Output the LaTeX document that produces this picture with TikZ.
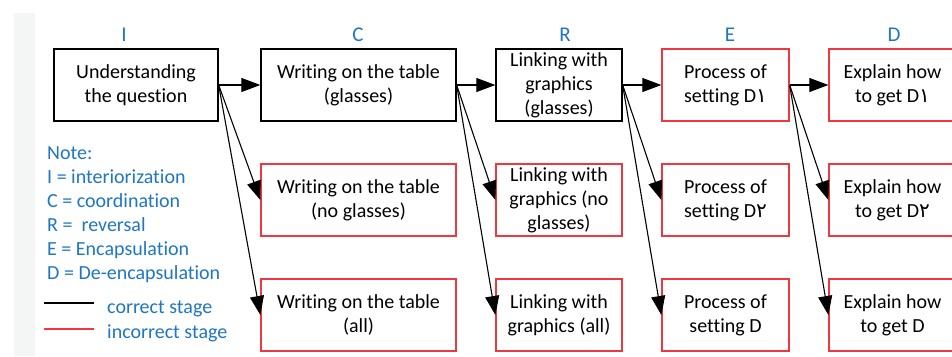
\documentclass[tikz,border=0pt]{standalone}
\usepackage{fontspec}
\setmainfont[Ligatures=NoCommon]{Carlito}
\newfontfamily\arabicfont[Script=Arabic]{DejaVu Sans}
\usetikzlibrary{arrows.meta}
\definecolor{noteblue}{RGB}{31,119,196}
\definecolor{badred}{RGB}{236,56,62}
\definecolor{stripgray}{RGB}{244,245,245}
\newcommand{\ardigit}[1]{{\arabicfont #1}}
\tikzset{
  stage/.style={draw, line width=1.3pt, minimum height=72pt, inner sep=0pt,
    align=center, font=\fontsize{20}{24}\selectfont},
  good/.style={stage, draw=black},
  bad/.style={stage, draw=badred},
  flow/.style={line width=1.1pt, -{Triangle[length=19pt,width=14pt]}},
  tag/.style={text=noteblue, font=\fontsize{21}{24}\selectfont, anchor=base, inner sep=0pt},
  note/.style={text=noteblue, font=\fontsize{20}{24}\selectfont, anchor=base west, inner sep=0pt},
}
\begin{document}
\begin{tikzpicture}[x=1pt,y=-1pt]
  \path[use as bounding box, clip] (0,0) rectangle (952,356);
  \fill[white] (0,0) rectangle (952,356);
  \fill[stripgray] (14,13) rectangle (35,356);

  % stage headings
  \node[tag] (hI) at (124,41) {I};
  \node[tag] (hC) at (358,41) {C};
  \node[tag] (hR) at (565,41) {R};
  \node[tag] (hE) at (730,41) {E};
  \node[tag] (hD) at (894,41) {D};

  % column I
  \node[good, minimum width=164pt] (I1) at (136,85) {Understanding\\the question};

  % column C
  \node[good, minimum width=195pt] (C1) at (358.5,85) {Writing on the table\\(glasses)};
  \node[bad, minimum width=195pt] (C2) at (358.5,200) {Writing on the table\\(no glasses)};
  \node[bad, minimum width=195pt] (C3) at (358.5,315) {Writing on the table\\(all)};

  % column R
  \node[good, minimum width=126pt] (R1) at (559,85) {Linking with\\graphics\\(glasses)};
  \node[bad, minimum width=126pt] (R2) at (559,200) {Linking with\\graphics (no\\glasses)};
  \node[bad, minimum width=126pt] (R3) at (559,315) {Linking with\\graphics (all)};

  % column E
  \node[bad, minimum width=127pt] (E1) at (725.5,85) {Process of\\setting D\ardigit{١}};
  \node[bad, minimum width=127pt] (E2) at (725.5,200) {Process of\\setting D\ardigit{٢}};
  \node[bad, minimum width=127pt] (E3) at (725.5,315) {Process of\\setting D};

  % column D
  \node[bad, minimum width=127pt] (D1) at (892.5,85) {Explain how\\to get D\ardigit{١}};
  \node[bad, minimum width=127pt] (D2) at (892.5,200) {Explain how\\to get D\ardigit{٢}};
  \node[bad, minimum width=127pt] (D3) at (892.5,315) {Explain how\\to get D};

  % transitions
  \foreach \src/\dst in {I1/C, C1/R, R1/E, E1/D} {
    \draw[flow] (\src.east) -- (\dst1.west);
    \draw[flow] (\src.east) -- (\dst2.west);
    \draw[flow] (\src.east) -- (\dst3.west);
  }

  % legend
  \node[note] (n0) at (47,159) {Note:};
  \node[note] (n1) at (47,183) {I = interiorization};
  \node[note] (n2) at (47,207) {C = coordination};
  \node[note] (n3) at (47,231) {R = \ reversal};
  \node[note] (n4) at (47,255) {E = Encapsulation};
  \node[note] (n5) at (47,279) {D = De-encapsulation};
  \coordinate (k1a) at (44,303);
  \coordinate (k1b) at (94,303);
  \coordinate (k2a) at (44,329);
  \coordinate (k2b) at (94,329);
  \draw[line width=1.2pt, black] (k1a) -- (k1b);
  \draw[line width=1.2pt, badred] (k2a) -- (k2b);
  \node[note] (k1) at (107,313) {correct stage};
  \node[note] (k2) at (107,338) {incorrect stage};
\end{tikzpicture}
\end{document}
